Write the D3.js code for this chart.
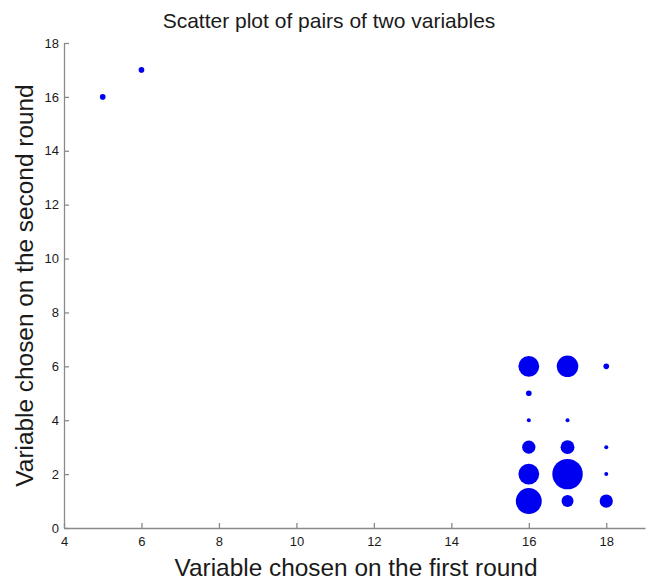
<!DOCTYPE html>
<html>
<head>
<meta charset="utf-8">
<script src="https://cdn.jsdelivr.net/npm/d3@7"></script>
<style>
  html, body { margin: 0; padding: 0; background: #fff; }
  svg { display: block; font-family: "Liberation Sans", Arial, sans-serif; }
</style>
</head>
<body>
<svg id="chart" width="648" height="585"></svg>
<script>
// Pairs of choices (first round, second round) and how often each pair occurred
const firstRound  = [5, 6, 16, 16, 16, 16, 16, 16, 17, 17, 17, 17, 17, 18, 18, 18, 18];
const secondRound = [16, 17, 6, 5, 4, 3, 2, 1, 6, 4, 3, 2, 1, 6, 3, 2, 1];
const pairCounts  = [2, 2, 27, 2, 1, 11, 27, 42, 29, 1, 12, 58, 9, 2, 1, 1, 11];

const xTicks = [4, 6, 8, 10, 12, 14, 16, 18];
const yTicks = [0, 2, 4, 6, 8, 10, 12, 14, 16, 18];

const titleText = "Scatter plot of pairs of two variables";
const xLabel = "Variable chosen on the first round";
const yLabel = "Variable chosen on the second round";

const width = 648, height = 585;
const margin = { left: 64, right: 3, top: 43, bottom: 57 };

const svg = d3.select("#chart");

const x = d3.scaleLinear().domain([4, 19]).range([margin.left, width - margin.right]);
const y = d3.scaleLinear().domain([0, 18]).range([height - margin.bottom, margin.top]);
const r = d3.scaleSqrt().domain([0, 1]).range([0, 2]);

const points = firstRound.map((v, i) => ({ fx: v, sy: secondRound[i], n: pairCounts[i] }));

// Axes: ticks point inward, only left and bottom spines
const axisColor = "#8a8a8a";
const gx = svg.append("g")
  .attr("transform", `translate(0,${y(0)})`)
  .call(d3.axisBottom(x).tickValues(xTicks).tickSizeInner(-5).tickSizeOuter(0).tickPadding(9));
const gy = svg.append("g")
  .attr("transform", `translate(${x(4)},0)`)
  .call(d3.axisLeft(y).tickValues(yTicks).tickSizeInner(-5).tickSizeOuter(0).tickPadding(5));

[gx, gy].forEach(g => {
  g.select(".domain").attr("stroke", axisColor).attr("stroke-width", 1.3);
  g.selectAll(".tick line").attr("stroke", axisColor).attr("stroke-width", 1.3);
  g.selectAll(".tick text").attr("fill", "#1a1a1a").style("font-size", "13px")
    .style("font-family", "'Liberation Sans', Arial, sans-serif");
});

// Bubbles
svg.append("g")
  .selectAll("circle")
  .data(points)
  .join("circle")
  .attr("cx", d => x(d.fx))
  .attr("cy", d => y(d.sy))
  .attr("r", d => r(d.n))
  .attr("fill", "#0000f0");

// Title and axis labels
svg.append("text")
  .attr("x", 329)
  .attr("y", 28)
  .attr("text-anchor", "middle")
  .attr("fill", "#1a1a1a")
  .style("font-size", "21px")
  .text(titleText);

svg.append("text")
  .attr("x", 356)
  .attr("y", 576)
  .attr("text-anchor", "middle")
  .attr("fill", "#1a1a1a")
  .style("font-size", "24.4px")
  .text(xLabel);

svg.append("text")
  .attr("transform", `translate(33,${(y(0) + y(18)) / 2}) rotate(-90)`)
  .attr("text-anchor", "middle")
  .attr("fill", "#1a1a1a")
  .style("font-size", "24.4px")
  .text(yLabel);
</script>
</body>
</html>
